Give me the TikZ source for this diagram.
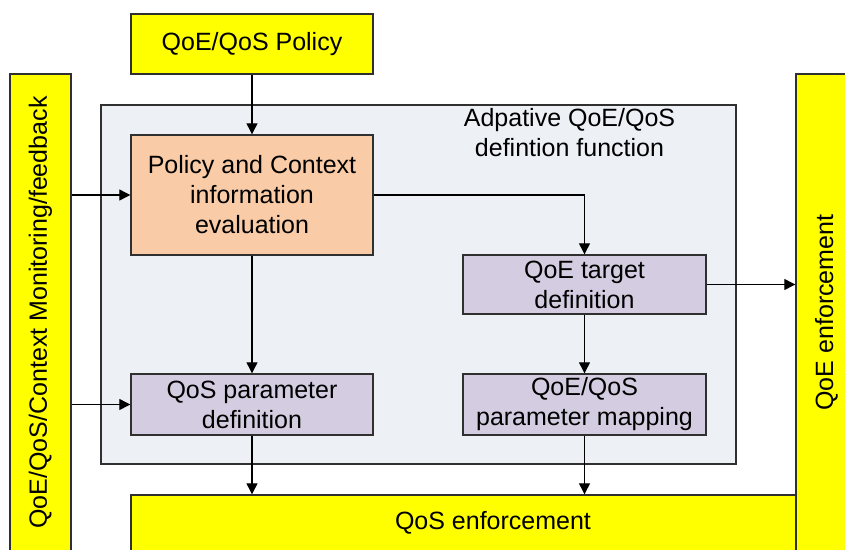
\documentclass[tikz,border=0pt]{standalone}
\usepackage{fontspec}
\setmainfont{Liberation Sans}
\usetikzlibrary{arrows.meta}
\definecolor{ybox}{HTML}{FFFF00}
\definecolor{obox}{HTML}{F9CBA6}
\definecolor{pbox}{HTML}{D4CCE0}
\definecolor{cbox}{HTML}{EDF0F5}
\definecolor{edge}{HTML}{303030}
\tikzset{
  base/.style={draw=edge, line width=1.4pt, inner sep=0pt, align=center,
    font=\fontsize{25}{30}\selectfont},
  ybx/.style={base, fill=ybox},
  obx/.style={base, fill=obox},
  pbx/.style={base, fill=pbox},
  conn/.style={draw=black, line width=1.2pt, -{Triangle[length=11pt,width=11pt]}}
}
\begin{document}
\begin{tikzpicture}[x=1pt,y=-1pt]
\useasboundingbox (0,0) rectangle (845,549);
\clip (0,0) rectangle (845,549);
\fill[white] (0,0) rectangle (845,549);
% outer boxes
\node[ybx, minimum width=242pt, minimum height=60pt] (policy) at (252,44) {QoE/QoS Policy};
\node[ybx, minimum width=61pt, minimum height=477pt] (leftbar) at (40.5,312.5)
  {\rotatebox{90}{QoE/QoS/Context Monitoring/feedback}};
\node[ybx, minimum width=724pt, minimum height=56pt] (qosenf) at (493,523) {QoS enforcement};
\node[ybx, minimum width=61pt, minimum height=477pt] (rightbar) at (826.5,312.5)
  {\rotatebox{90}{QoE enforcement}};
% container
\node[base, fill=cbox, minimum width=635pt, minimum height=359pt] (cont) at (418.5,284.5) {};
\node[font=\fontsize{25}{30}\selectfont, align=center, inner sep=0pt] (contlabel) at (569.5,133)
  {Adpative QoE/QoS\\defintion function};
% inner boxes
\node[obx, minimum width=242pt, minimum height=120pt] (pce) at (252,195)
  {Policy and Context\\information\\evaluation};
\node[pbx, minimum width=243pt, minimum height=59pt] (qoet) at (584.5,284.5)
  {QoE target\\definition};
\node[pbx, minimum width=242pt, minimum height=61pt] (qospd) at (252,404.5)
  {QoS parameter\\definition};
\node[pbx, minimum width=243pt, minimum height=61pt] (map) at (584.5,404.5)
  {QoE/QoS\\parameter mapping};
% connectors
\draw[conn] (policy.south) -- (pce.north);
\draw[conn] (leftbar.east |- pce.west) -- (pce.west);
\draw[conn] (leftbar.east |- qospd.west) -- (qospd.west);
\draw[conn] (pce.east) -| (qoet.north);
\draw[conn] (qoet.east) -- (qoet.east -| rightbar.west);
\draw[conn] (pce.south) -- (qospd.north);
\draw[conn] (qoet.south) -- (map.north);
\draw[conn] (qospd.south) -- (qospd.south |- qosenf.north);
\draw[conn] (map.south) -- (map.south |- qosenf.north);
\end{tikzpicture}
\end{document}
